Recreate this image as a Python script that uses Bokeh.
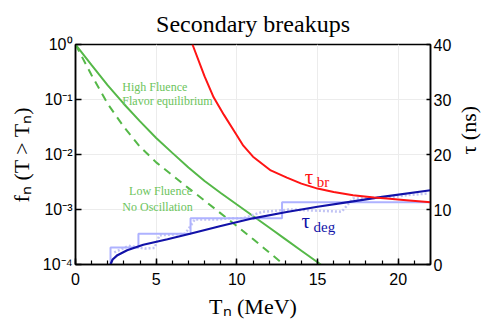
import math
from bokeh.plotting import figure
from bokeh.models import Range1d, LinearAxis, LinearScale, FixedTicker, SingleIntervalTicker, Title
from bokeh.core.properties import value
from bokeh.embed import file_html
from bokeh.resources import INLINE

# ---------------- data ----------------
# High fluence / flavor equilibrium: fraction f_n(T > T_n)
T_high = [0, 1, 2, 3, 4, 5, 6, 7, 8, 9, 10, 11, 12, 13, 14, 15.2]
f_high = [1.0, 0.42, 0.18, 0.083, 0.040, 0.020, 0.0107, 0.0058, 0.0033,
          0.0020, 0.00123, 0.00076, 0.00047, 0.00029, 0.000178, 0.0001]

# Low fluence / no oscillation
T_low = [0, 1, 2, 3, 4, 5, 6, 7, 8, 9, 10, 11, 12, 12.9]
f_low = [1.0, 0.275, 0.083, 0.0316, 0.0138, 0.0072, 0.0042, 0.00245,
         0.00145, 0.00085, 0.0005, 0.00029, 0.000166, 0.0001]

# tau_br (ns)
T_br = [7.25, 8.0, 8.56, 9.2, 9.8, 10.4, 11.0, 12.1, 13.1, 14.0, 15.0,
        16.0, 17.2, 18.5, 19.3, 20.5, 22.0]
tau_br = [40.0, 34.2, 30.4, 27.2, 24.4, 21.6, 19.6, 17.1, 15.8, 14.7, 13.8,
          13.2, 12.6, 12.2, 12.0, 11.7, 11.3]

# tau_deg (ns)
T_deg = [2.17, 2.3, 2.6, 3.2, 4.2, 5.7, 7.1, 9.0, 11.0, 13.0, 15.0, 17.0, 19.0, 22.0]
tau_deg = [0.0, 0.9, 1.7, 2.6, 3.6, 4.6, 5.6, 7.0, 8.4, 9.5, 10.5, 11.4, 12.3, 13.5]

# histogram-like staircase (ns)
T_step = [2.17, 2.17, 3.9, 7.13, 12.8, 22.0]
tau_step = [0.0, 3.1, 5.6, 8.4, 11.3, 11.3]

# dotted "x" series (ns)
T_mc = [2.4, 3.3, 4.3, 4.9, 5.2, 6.8, 7.4, 8.8, 9.6, 10.4, 11.6, 12.6,
        13.2, 16.5, 17.2, 19.6, 20.5, 21.8]
tau_mc = [2.2, 3.4, 2.9, 3.0, 5.3, 5.6, 8.2, 8.2, 8.4, 8.4, 9.6, 9.8,
          10.0, 9.6, 12.0, 12.2, 12.6, 12.9]

x_ticks = [0, 5, 10, 15, 20]
y_ticks = [1e-4, 1e-3, 1e-2, 1e-1, 1.0]
y_tick_labels = ["10⁻⁴", "10⁻³", "10⁻²", "10⁻¹", "10⁰"]
tau_ticks = [0, 10, 20, 30, 40]

GREEN = "#55b848"
GREEN_TXT = "#6cc45c"
RED = "#ff1414"
BLUE = "#1212a8"
LIGHT = "#aeb2ff"
SERIF = "Liberation Serif"
SANS = "Liberation Sans"

p = figure(width=491, height=335, frame_width=355, frame_height=220,
           x_range=Range1d(0, 22), y_range=Range1d(1e-4, 1.0),
           y_axis_type="log", output_backend="svg", toolbar_location=None,
           min_border_left=75, min_border_right=61, min_border_top=44,
           min_border_bottom=71)
p.title = None
p.extra_y_ranges = {"tau": Range1d(0, 40)}
p.extra_y_scales = {"tau": LinearScale()}

# small spacer above the frame, then the real title above it
p.add_layout(Title(text=" ", text_font_size="6px", standoff=0), "above")
p.add_layout(Title(text="Secondary breakups", text_font=SERIF, text_font_size="24px",
                   text_font_style="normal", text_color="black", align="center",
                   standoff=0), "above")

p.outline_line_color = "black"
p.outline_line_width = 1.5
p.background_fill_color = "white"
p.border_fill_color = "white"

# x axis
xax = p.xaxis[0]
xax.ticker = SingleIntervalTicker(interval=5, num_minor_ticks=5)
xax.axis_label = "Tₙ (MeV)"
# left axis
yax = p.yaxis[0]
yax.ticker = FixedTicker(ticks=y_ticks, minor_ticks=[])
yax.major_label_overrides = {t: s for t, s in zip(y_ticks, y_tick_labels)}
yax.axis_label = "fₙ (T > Tₙ)"
# right axis
rax = LinearAxis(y_range_name="tau", ticker=FixedTicker(ticks=tau_ticks, minor_ticks=[]),
                 axis_label="τ (ns)")
p.add_layout(rax, "right")

for ax in (xax, yax, rax):
    ax.axis_line_color = "black"
    ax.axis_line_width = 1.5
    ax.major_tick_line_color = "black"
    ax.major_tick_line_width = 1.5
    ax.minor_tick_line_color = "black"
    ax.minor_tick_line_width = 1.2
    ax.major_tick_in = 6
    ax.major_tick_out = 0
    ax.minor_tick_in = 4
    ax.minor_tick_out = 0
    ax.major_label_text_font = SANS
    ax.major_label_text_font_size = "16px"
    ax.major_label_text_color = "black"
    ax.axis_label_text_font = SERIF
    ax.axis_label_text_font_size = "22px"
    ax.axis_label_text_font_style = "normal"
    ax.axis_label_text_color = "black"
xax.major_label_standoff = 8
xax.axis_label_standoff = 6
yax.major_label_standoff = 3
yax.axis_label_standoff = 6
rax.major_label_standoff = 3
rax.axis_label_standoff = 14
rax.major_tick_in = 4
rax.axis_label_orientation = math.pi / 2

p.xgrid.ticker = FixedTicker(ticks=x_ticks)
p.ygrid.ticker = FixedTicker(ticks=y_ticks)
p.xgrid.grid_line_color = "#ececec"
p.ygrid.grid_line_color = "#ececec"

# curves
p.line(T_high, f_high, line_color=GREEN, line_width=2)
p.line(T_low, f_low, line_color=GREEN, line_width=2, line_dash="8 6")

p.line(T_mc, tau_mc, y_range_name="tau", line_color="#c2c4f4", line_width=2.5,
       line_dash="2 2")
p.step(T_step, tau_step, y_range_name="tau", mode="after", line_color=LIGHT,
       line_width=2)
p.line(T_deg, tau_deg, y_range_name="tau", line_color=BLUE, line_width=2.2)
p.line(T_br, tau_br, y_range_name="tau", line_color=RED, line_width=2)

# annotations
p.text(x=[2.9, 2.9], y=[0.166, 0.092], text=["High Fluence", "Flavor equilibrium"],
       text_font=value(SERIF), text_font_size="12px", text_color=GREEN_TXT,
       text_align="left", text_baseline="middle")
p.text(x=[5.27, 5.08], y=[0.00213, 0.00113], text=["Low Fluence", "No Oscillation"],
       text_font=value(SERIF), text_font_size="12px", text_color=GREEN_TXT,
       text_align="center", text_baseline="middle")

p.text(x=[14.2], y=[16.0], text=["τ"], y_range_name="tau", text_font=value(SERIF),
       text_font_size="21px", text_color=RED, text_align="left", text_baseline="middle")
p.text(x=[14.95], y=[15.0], text=["br"], y_range_name="tau", text_font=value(SERIF),
       text_font_size="15px", text_color=RED, text_align="left", text_baseline="middle")
p.text(x=[14.0], y=[8.0], text=["τ"], y_range_name="tau", text_font=value(SERIF),
       text_font_size="21px", text_color=BLUE, text_align="left", text_baseline="middle")
p.text(x=[14.75], y=[6.9], text=["deg"], y_range_name="tau", text_font=value(SERIF),
       text_font_size="15px", text_color=BLUE, text_align="left", text_baseline="middle")

open("out.html", "w").write(file_html(p, INLINE))
